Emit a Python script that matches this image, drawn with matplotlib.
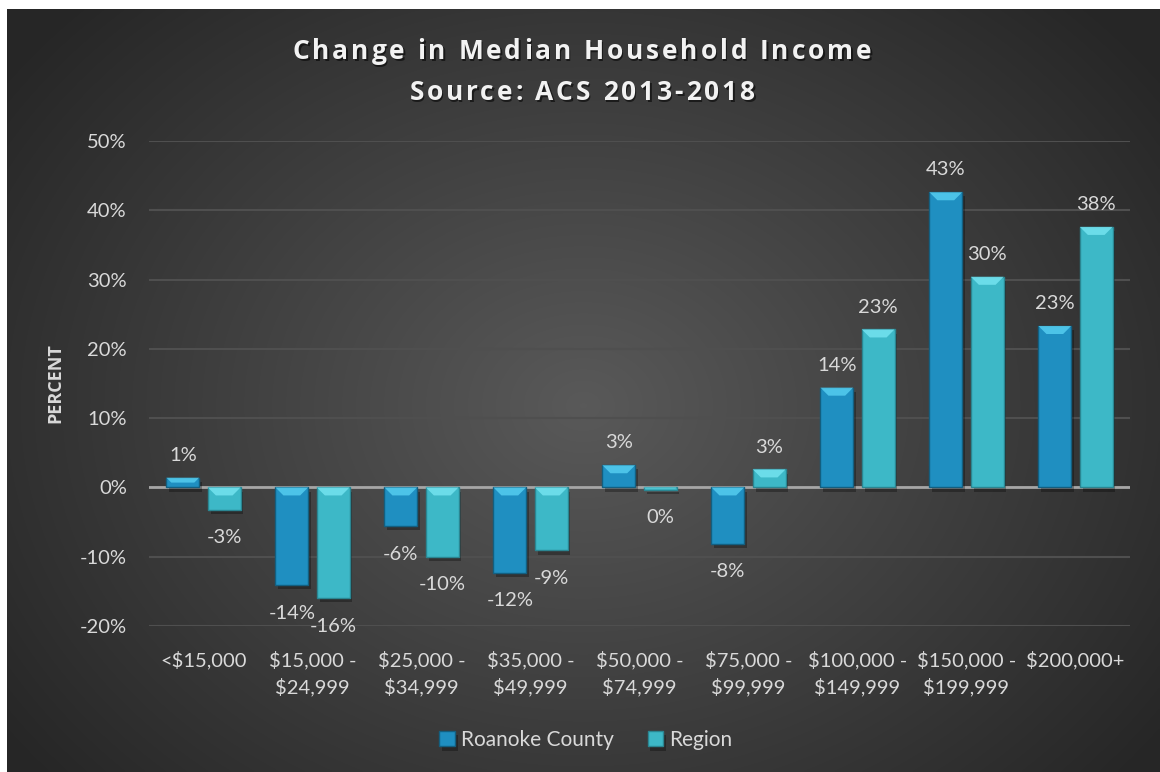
import numpy as np
import matplotlib
matplotlib.use("Agg")
import matplotlib.pyplot as plt
import matplotlib.patheffects as pe
from matplotlib.patches import Polygon
from matplotlib.ticker import FuncFormatter

# data
categories = ["<$15,000", "$15,000 -\n$24,999", "$25,000 -\n$34,999", "$35,000 -\n$49,999",
              "$50,000 -\n$74,999", "$75,000 -\n$99,999", "$100,000 -\n$149,999",
              "$150,000 -\n$199,999", "$200,000+"]
roanoke = [1.4, -14.1, -5.6, -12.3, 3.2, -8.1, 14.4, 42.6, 23.3]
region = [-3.2, -16.0, -10.0, -9.1, -0.3, 2.6, 22.8, 30.4, 37.6]
series_names = ["Roanoke County", "Region"]
title_lines = ["Change in Median Household Income", "Source: ACS 2013-2018"]

TEXT = "#d9d9d9"
FONT = "Lato"
W, H = 1160, 772

fig = plt.figure(figsize=(W / 100, H / 100), dpi=100)
fig.patch.set_facecolor("white")

# dark radial gradient behind the chart area
bg = fig.add_axes([7 / W, 0, 1 - 7 / W, 1 - 9 / H], zorder=-10)
yy, xx = np.mgrid[0:1:300j, 0:1:450j]
d = np.sqrt(((xx - 0.5) / 0.62) ** 2 + ((yy - 0.52) / 0.75) ** 2)
d = np.clip(d, 0, 1)
lo, hi = np.array([0.35, 0.35, 0.35]), np.array([0.15, 0.15, 0.15])
img = lo[None, None, :] * (1 - d[..., None]) + hi[None, None, :] * d[..., None]
bg.imshow(img, aspect="auto", extent=[0, 1, 0, 1], interpolation="bilinear")
bg.set_axis_off()

ax = fig.add_axes([149 / W, 1 - 626 / H, (1130 - 149) / W, (626 - 141) / H])
ax.patch.set_alpha(0)

x = np.arange(len(categories))
w = 0.30
off = 0.19

styles = [
    dict(face="#1f8fc1", edge="#135f80", cap="#55cdf0"),
    dict(face="#3db8c7", edge="#2a8692", cap="#74e3f0"),
]

ax.set_ylim(-20, 50)
ax.set_xlim(-0.5, len(categories) - 0.5)

px_per_unit_y = (626 - 141) / 70.0
px_per_unit_x = (1130 - 149) / len(categories)

for vals, sign, st, name in [(roanoke, -1, styles[0], series_names[0]),
                             (region, 1, styles[1], series_names[1])]:
    pos = x + sign * off
    bars = ax.bar(pos, vals, width=w, color=st["face"], edgecolor=st["edge"],
                  linewidth=1.0, zorder=3, label=name)
    for b in bars:
        b.set_path_effects([pe.SimplePatchShadow(offset=(2, -3), alpha=0.3, shadow_rgbFace="black"),
                            pe.Normal()])
    # bevel highlight on the top edge of each bar
    for b, v in zip(bars, vals):
        x0 = b.get_x()
        x1 = x0 + b.get_width()
        top = max(v, 0)
        h = min(8 / px_per_unit_y, abs(v) / 2)
        dx = h * px_per_unit_y / px_per_unit_x
        poly = Polygon([(x0, top), (x1, top), (x1 - dx, top - h), (x0 + dx, top - h)],
                       closed=True, facecolor=st["cap"], edgecolor="none", alpha=0.85, zorder=4)
        ax.add_patch(poly)
    # value labels outside the end of the bar
    for p, v in zip(pos, vals):
        lab = f"{round(v):.0f}%"
        if v >= 0:
            ax.annotate(lab, (p, v), xytext=(0, 10), textcoords="offset points",
                        ha="center", va="bottom", color=TEXT, fontsize=14.5, family=FONT)
        else:
            ax.annotate(lab, (p, v), xytext=(0, -14), textcoords="offset points",
                        ha="center", va="top", color=TEXT, fontsize=14.5, family=FONT)

ax.set_yticks(np.arange(-20, 51, 10))
ax.yaxis.set_major_formatter(FuncFormatter(lambda v, _: f"{v:.0f}%"))
ax.grid(axis="y", color="#4f4f4f", linewidth=1.5, zorder=0)
ax.axhline(0, color="#a6a6a6", linewidth=2, zorder=2)
ax.set_axisbelow(True)
for s in ax.spines.values():
    s.set_visible(False)
ax.tick_params(axis="both", length=0, colors=TEXT, labelsize=14.5)
ax.tick_params(axis="y", pad=16)
ax.tick_params(axis="x", pad=18)
ax.set_xticks(x)
ax.set_xticklabels(categories, linespacing=1.5)
for t in ax.get_xticklabels() + ax.get_yticklabels():
    t.set_family(FONT)

ax.set_ylabel("PERCENT", color=TEXT, fontsize=13, fontweight="bold", family="Open Sans", labelpad=11)

# title with letter spacing and a soft drop shadow
renderer = fig.canvas.get_renderer()
title_kw = dict(color="#f2f2f2", fontsize=19, fontweight="bold", family="Open Sans", va="baseline")
spacing = 2.9
for line, base_y in zip(title_lines, [59, 100]):
    probe = fig.text(0, 0, "", **title_kw)
    starts = []
    for i, ch in enumerate(line):
        if ch == " ":
            starts.append(None)
            continue
        probe.set_text(line[:i + 1])
        full = probe.get_window_extent(renderer).width
        probe.set_text(ch)
        cw = probe.get_window_extent(renderer).width
        starts.append(full - cw)
    probe.set_text(line)
    total = probe.get_window_extent(renderer).width + spacing * (len(line) - 1)
    probe.remove()
    left = 582 - total / 2
    for i, (ch, s0) in enumerate(zip(line, starts)):
        if s0 is None:
            continue
        px = left + s0 + spacing * i
        fig.text((px + 1.5) / W, 1 - (base_y + 2) / H, ch, ha="left", alpha=0.55,
                 **{**title_kw, "color": "black"})
        fig.text(px / W, 1 - base_y / H, ch, ha="left", **title_kw)

leg = fig.legend(loc="center", bbox_to_anchor=(586 / W, 1 - 740 / H), ncol=2, frameon=False,
                 handlelength=0.75, handleheight=0.75, handletextpad=0.3, columnspacing=1.6,
                 prop={"family": FONT, "size": 15})
for txt in leg.get_texts():
    txt.set_color(TEXT)

fig.savefig("out.png", dpi=100, facecolor=fig.get_facecolor())
